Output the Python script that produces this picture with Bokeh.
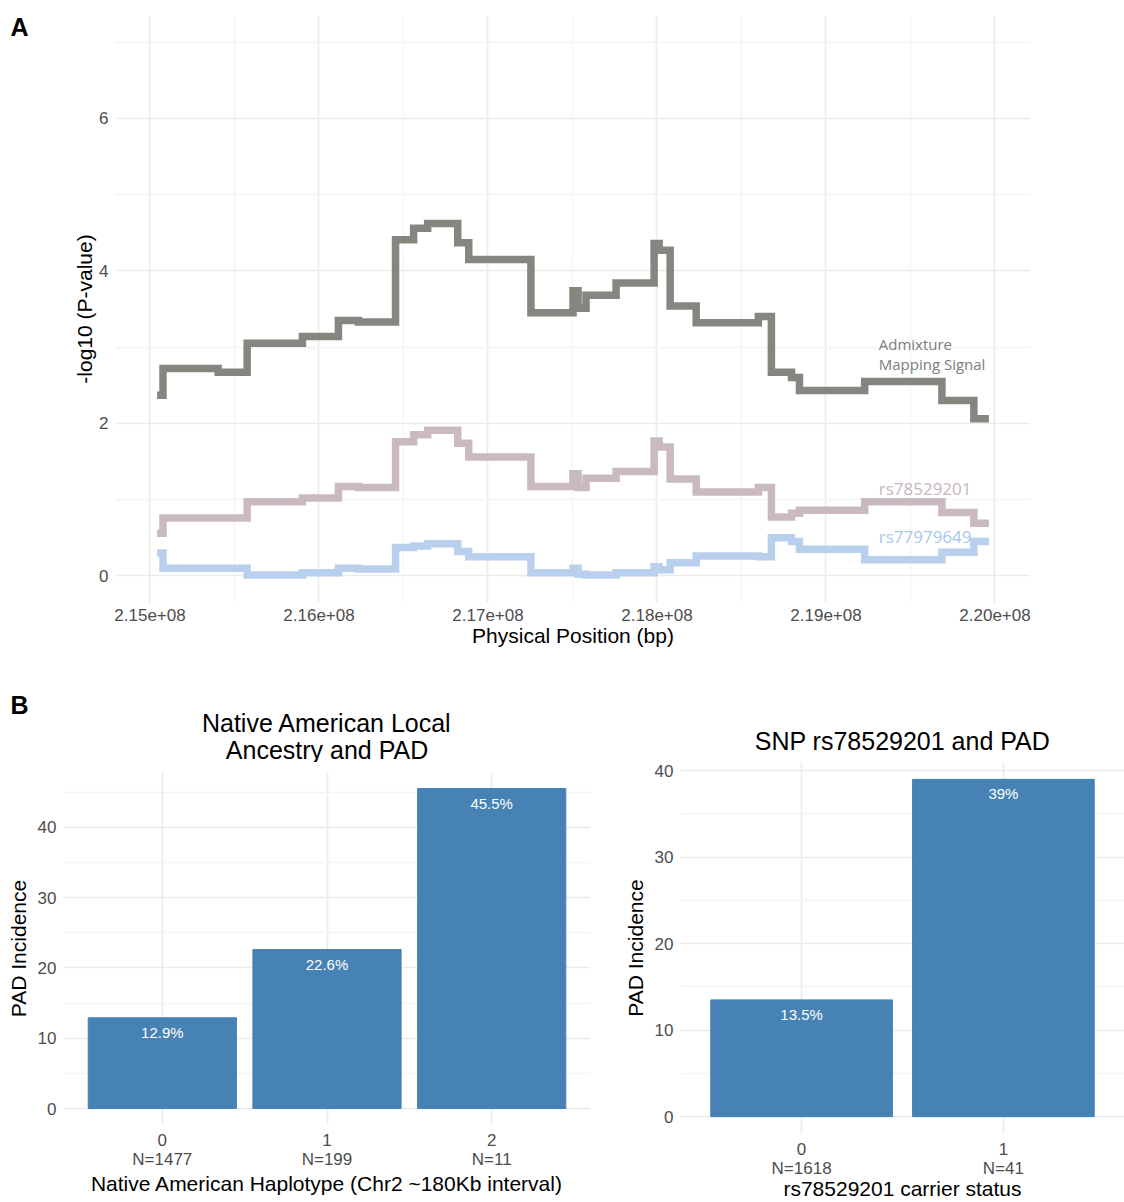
from bokeh.plotting import figure
from bokeh.models import Range1d, FixedTicker, Label, ColumnDataSource
from bokeh.layouts import column, row
from bokeh.embed import file_html
from bokeh.resources import INLINE
from bokeh.core.properties import value

# ---------------- Panel A data ----------------
positions_bp = [215042000, 215077000, 215403000, 215575000, 215902000, 216115000,
                216234000, 216453000, 216560000, 216643000, 216821000, 216886000,
                217254000, 217503000, 217533000, 217580000, 217758000, 217983000,
                218013000, 218078000, 218232000, 218600000, 218677000, 218796000,
                218843000, 219229000, 219686000, 219875000, 219964000]
admixture_signal = [2.37, 2.72, 2.67, 3.05, 3.14, 3.35, 3.33, 4.41, 4.56, 4.62, 4.37, 4.15,
                    3.45, 3.74, 3.51, 3.68, 3.84, 4.36, 4.27, 3.54, 3.32, 3.40, 2.67, 2.60,
                    2.43, 2.55, 2.30, 2.06]
rs78529201 = [0.56, 0.76, 0.76, 0.97, 1.02, 1.17, 1.16, 1.76, 1.85, 1.91, 1.74, 1.56,
              1.17, 1.34, 1.16, 1.28, 1.37, 1.77, 1.69, 1.27, 1.10, 1.16, 0.77, 0.82,
              0.86, 0.97, 0.83, 0.69]
rs77979649 = [0.30, 0.10, 0.10, 0.01, 0.04, 0.10, 0.09, 0.37, 0.39, 0.42, 0.32, 0.25,
              0.04, 0.10, 0.02, 0.01, 0.04, 0.12, 0.08, 0.17, 0.26, 0.25, 0.50, 0.45,
              0.35, 0.21, 0.31, 0.45]
x_ticks = [215000000, 216000000, 217000000, 218000000, 219000000, 220000000]
y_ticks_A = [0, 2, 4, 6]

# ---------------- Panel B data ----------------
haplotype_cat = ["0", "1", "2"]
haplotype_n = [1477, 199, 11]
haplotype_pad = [12.9, 22.6, 45.5]
carrier_cat = ["0", "1"]
carrier_n = [1618, 41]
carrier_pad = [13.5, 39.0]
y_ticks_B = [0, 10, 20, 30, 40]

FONT = "Liberation Sans"
TICK_COLOR = "#4d4d4d"
GRID_MAJOR = "#ebebeb"
GRID_MINOR = "#f3f3f3"


def style_common(p):
    p.outline_line_color = None
    p.background_fill_color = "white"
    p.border_fill_color = "white"
    for ax in (p.xaxis, p.yaxis):
        ax.axis_line_color = None
        ax.major_tick_line_color = None
        ax.minor_tick_line_color = None
        ax.major_label_text_font = FONT
        ax.major_label_text_color = TICK_COLOR
        ax.major_label_text_font_size = "17px"
        ax.axis_label_text_font = FONT
        ax.axis_label_text_font_style = "normal"
        ax.axis_label_text_color = "black"
        ax.axis_label_text_font_size = "21px"
    for g in (p.xgrid, p.ygrid):
        g.grid_line_color = GRID_MAJOR
        g.grid_line_width = 1.6
        g.minor_grid_line_color = GRID_MINOR
        g.minor_grid_line_width = 1.3


def text_fig(width, height):
    p = figure(width=width, height=height, x_range=Range1d(0, width), y_range=Range1d(height, 0),
               x_axis_location=None, y_axis_location=None, toolbar_location=None,
               output_backend="svg", min_border=0, title=None, frame_align=False)
    p.grid.visible = False
    p.outline_line_color = None
    p.background_fill_color = None
    p.border_fill_color = None
    return p


TOP_H = 688
STRIP_H = 74
BOT_H = 1202 - TOP_H - STRIP_H
LETTER_W = 40

# ---------------- Panel A ----------------
span = positions_bp[-1] - positions_bp[0]
xmin = positions_bp[0] - 0.05 * span
xmax = positions_bp[-1] + 0.05 * span

pA = figure(width=1124 - LETTER_W, height=TOP_H, x_range=Range1d(xmin, xmax),
            y_range=Range1d(-0.35, 7.35),
            output_backend="svg", toolbar_location=None, title=None, frame_align=False,
            min_border_left=75, min_border_right=94, min_border_top=15, min_border_bottom=86)
style_common(pA)
minor_x = [t + 500000 for t in x_ticks[:-1]]
pA.xaxis.ticker = FixedTicker(ticks=x_ticks, minor_ticks=minor_x)
pA.xaxis.major_label_overrides = {t: "%.2e" % t for t in x_ticks}
pA.yaxis.ticker = FixedTicker(ticks=y_ticks_A, minor_ticks=[1, 3, 5, 7])
pA.xaxis.axis_label = "Physical Position (bp)"
pA.yaxis.axis_label = "-log10 (P-value)"
pA.xaxis.major_label_standoff = 0
pA.xaxis.axis_label_standoff = 0
pA.yaxis.major_label_standoff = 1
pA.yaxis.axis_label_standoff = 0

series = [(admixture_signal, "#84867f"), (rs78529201, "#cbb9c2"), (rs77979649, "#b9cfee")]
for vals, col in series:
    ys = list(vals) + [vals[-1]]
    pA.step(positions_bp, ys, mode="after", line_width=7.5, line_color=col, line_join="miter")

lab_x = 219312000
LF = "Open Sans"
pA.add_layout(Label(x=lab_x, y=3.04, text="Admixture", text_font=LF, text_font_size="15px",
                    text_color="#7d7d7d", text_baseline="middle"))
pA.add_layout(Label(x=lab_x, y=2.78, text="Mapping Signal", text_font=LF, text_font_size="15px",
                    text_color="#7d7d7d", text_baseline="middle"))
pA.add_layout(Label(x=lab_x, y=1.15, text="rs78529201", text_font=LF, text_font_size="17px",
                    text_color="#c9b5bf", text_baseline="middle"))
pA.add_layout(Label(x=lab_x, y=0.52, text="rs77979649", text_font=LF, text_font_size="17px",
                    text_color="#a9c6ee", text_baseline="middle"))

letterA = text_fig(LETTER_W, TOP_H)
letterA.text(x=[10], y=[26], text=["A"], text_font=value(FONT), text_font_style="bold",
             text_font_size="25px", text_color="black", text_baseline="middle")


# ---------------- Panel B ----------------
def bar_panel(cats, ns, vals, xlabel, width, height, mb_left, mb_right, mb_top, mb_bottom,
              xlab_standoff):
    xs = [i + 1 for i in range(len(cats))]
    ymax = max(vals) * 1.05
    p = figure(width=width, height=height, x_range=Range1d(0.4, len(cats) + 0.6),
               y_range=Range1d(-0.05 * max(vals), ymax),
               output_backend="svg", toolbar_location=None, title=None, frame_align=False,
               min_border_left=mb_left, min_border_right=mb_right,
               min_border_top=mb_top, min_border_bottom=mb_bottom)
    style_common(p)
    p.xaxis.ticker = FixedTicker(ticks=xs)
    p.xaxis.major_label_overrides = {x: f"{c}\nN={n}" for x, c, n in zip(xs, cats, ns)}
    p.xaxis.major_label_text_line_height = 1.0
    p.yaxis.ticker = FixedTicker(ticks=y_ticks_B, minor_ticks=[5, 15, 25, 35, 45])
    p.xaxis.axis_label = xlabel
    p.yaxis.axis_label = "PAD Incidence"
    p.xaxis.major_label_standoff = 0
    p.xaxis.axis_label_standoff = xlab_standoff
    p.yaxis.major_label_standoff = 1
    p.yaxis.axis_label_standoff = 5
    src = ColumnDataSource(dict(x=xs, top=vals, lab=[f"{v:g}%" for v in vals]))
    p.vbar(x="x", top="top", bottom=0, width=0.9, source=src, fill_color="#4682B4",
           line_color="#4682B4")
    p.text(x="x", y="top", text="lab", source=src, text_align="center", text_baseline="top",
           y_offset=6, text_color="white", text_font_size="15px", text_font=value(FONT))
    return p


B1_W, B1_L, B1_R = 600, 63, 10
B2_W, B2_L, B2_R = 1124 - B1_W, 80, 0

pB1 = bar_panel(haplotype_cat, haplotype_n, haplotype_pad,
                "Native American Haplotype (Chr2 ~180Kb interval)",
                B1_W, BOT_H, B1_L, B1_R, 10, 78, 0)
pB2 = bar_panel(carrier_cat, carrier_n, carrier_pad, "rs78529201 carrier status",
                B2_W, BOT_H, B2_L, B2_R, 0, 69, -4)

# strip with panel letter B and the two panel titles
strip = text_fig(1124, STRIP_H)
c1 = (B1_L + B1_W - B1_R) / 2
c2 = B1_W + (B2_L + B2_W - B2_R) / 2
strip.text(x=[10], y=[16], text=["B"], text_font=value(FONT), text_font_style="bold",
           text_font_size="25px", text_color="black", text_baseline="middle")
strip.text(x=[c1, c1, c2], y=[34, 61, 52],
           text=["Native American Local", "Ancestry and PAD", "SNP rs78529201 and PAD"],
           text_font=value(FONT), text_font_size="25px", text_color="black",
           text_align="center", text_baseline="middle")

layout = column(row(letterA, pA, spacing=0), strip, row(pB1, pB2, spacing=0), spacing=0)
open("out.html", "w").write(file_html(layout, INLINE))
